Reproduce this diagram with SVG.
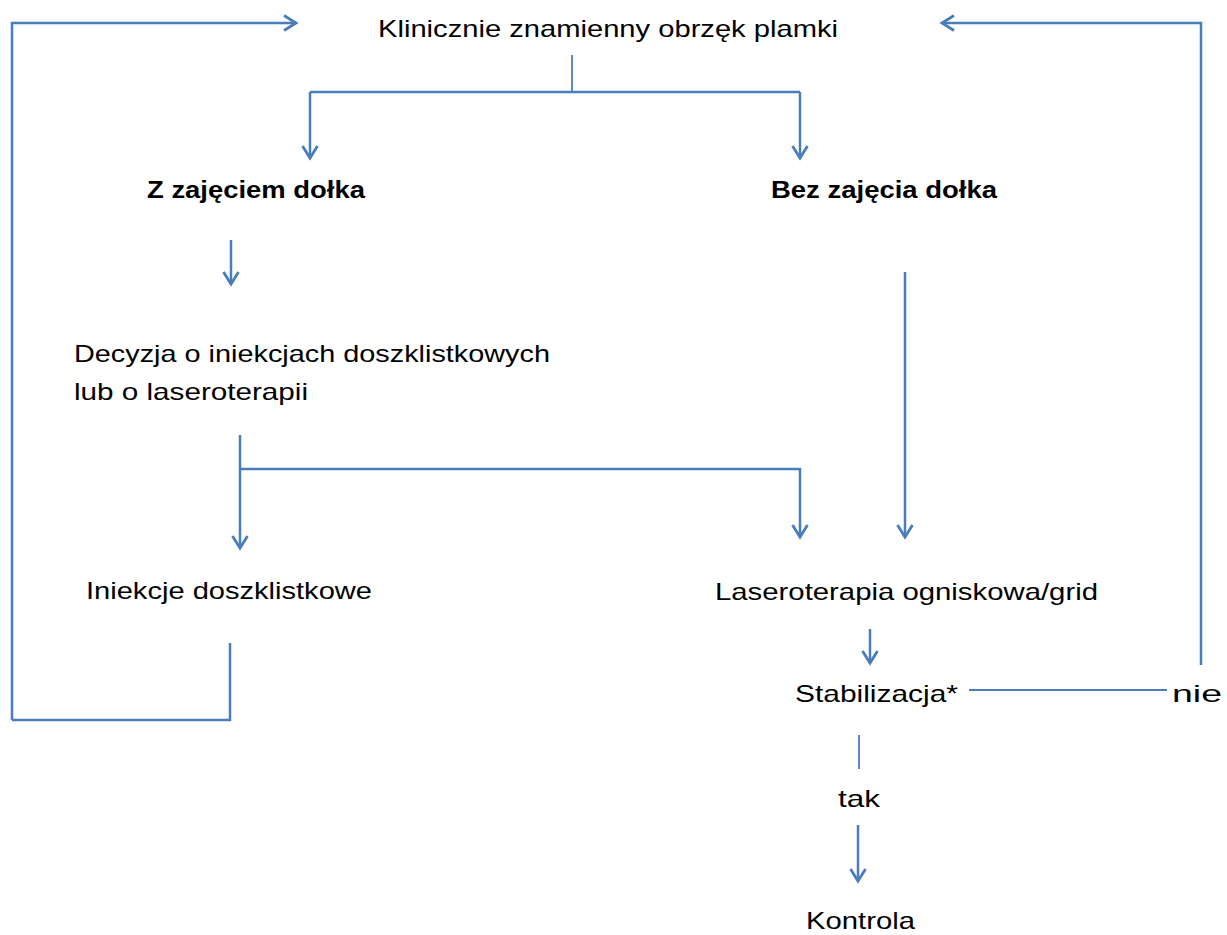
<svg xmlns="http://www.w3.org/2000/svg" width="1227" height="935" viewBox="0 0 1227 935">
<style>
text{font-family:"Liberation Sans",Arial,sans-serif;font-size:24px;fill:#000}
.b{font-weight:bold}
.c{fill:none;stroke:#4a7ebb;stroke-width:2.5}
.t{fill:none;stroke:#4a7ebb;stroke-width:1.8}
</style>
<defs>
<marker id="a" markerUnits="userSpaceOnUse" markerWidth="30" markerHeight="30" refX="0" refY="0" orient="auto" overflow="visible">
<path d="M-12,-7.5 L0,0 L-12,7.5" fill="none" stroke="#4a7ebb" stroke-width="2.8"/>
</marker>
</defs>
<rect width="1227" height="935" fill="#fff"/>
<g id="connectors">
<path class="c" d="M12,720 V23 H296" marker-end="url(#a)"/>
<path class="c" d="M230,643 V720 H12"/>
<path class="c" d="M1201,665 V23 H942" marker-end="url(#a)"/>
<path class="t" d="M572,55 V92"/>
<path class="c" d="M310,92 H800"/>
<path class="c" d="M310,92 V158" marker-end="url(#a)"/>
<path class="c" d="M800,92 V158" marker-end="url(#a)"/>
<path class="c" d="M231,240 V284" marker-end="url(#a)"/>
<path class="c" d="M240,435 V548" marker-end="url(#a)"/>
<path class="c" d="M240,469 H800 V537" marker-end="url(#a)"/>
<path class="c" d="M905,272 V537" marker-end="url(#a)"/>
<path class="c" d="M870,629 V663" marker-end="url(#a)"/>
<path class="t" d="M969,690 H1167"/>
<path class="t" d="M859,735 V769"/>
<path class="c" d="M858,825 V881" marker-end="url(#a)"/>
</g>
<g id="n1"><text x="378" y="37" textLength="460" lengthAdjust="spacingAndGlyphs">Klinicznie znamienny obrzęk plamki</text></g>
<g id="n2"><text class="b" x="147" y="198" textLength="218" lengthAdjust="spacingAndGlyphs">Z zajęciem dołka</text></g>
<g id="n3"><text class="b" x="771" y="198" textLength="226" lengthAdjust="spacingAndGlyphs">Bez zajęcia dołka</text></g>
<g id="n4"><text x="74" y="362" textLength="476" lengthAdjust="spacingAndGlyphs">Decyzja o iniekcjach doszklistkowych</text><text x="74" y="400" textLength="234" lengthAdjust="spacingAndGlyphs">lub o laseroterapii</text></g>
<g id="n5"><text x="86" y="599" textLength="286" lengthAdjust="spacingAndGlyphs">Iniekcje doszklistkowe</text></g>
<g id="n6"><text x="715" y="600" textLength="383" lengthAdjust="spacingAndGlyphs">Laseroterapia ogniskowa/grid</text></g>
<g id="n7"><text x="795" y="702" textLength="163" lengthAdjust="spacingAndGlyphs">Stabilizacja*</text></g>
<g id="n8"><text x="1172" y="702" textLength="50" lengthAdjust="spacingAndGlyphs">nie</text></g>
<g id="n9"><text x="838" y="807" textLength="42" lengthAdjust="spacingAndGlyphs">tak</text></g>
<g id="n10"><text x="806" y="929" textLength="109" lengthAdjust="spacingAndGlyphs">Kontrola</text></g>
</svg>
